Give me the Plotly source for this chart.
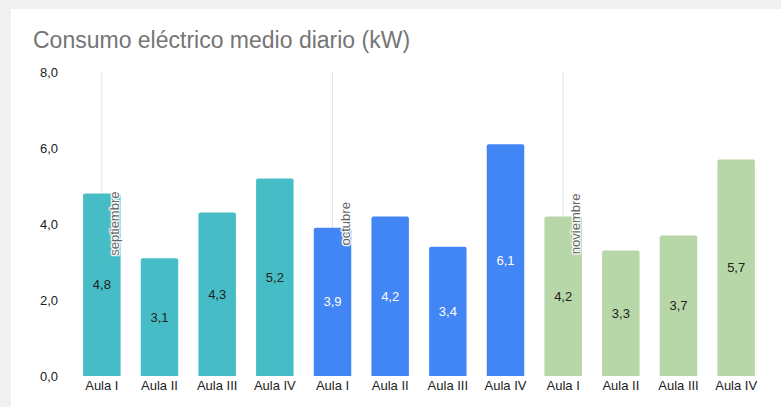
import plotly.graph_objects as go

# ---- data ----
months = ["septiembre", "octubre", "noviembre"]
aulas = ["Aula I", "Aula II", "Aula III", "Aula IV"]
sept_vals = [4.8, 3.1, 4.3, 5.2]
oct_vals = [3.9, 4.2, 3.4, 6.1]
nov_vals = [4.2, 3.3, 3.7, 5.7]
month_colors = ["#46bdc6", "#4285f4", "#b7d7a8"]
label_colors = ["#222222", "#ffffff", "#222222"]
y_ticks = [0, 2, 4, 6, 8]

series = [sept_vals, oct_vals, nov_vals]

x, y, colors, tcolors, ticktext = [], [], [], [], []
starts = []
i = 0
for m, vals in enumerate(series):
    starts.append(i)
    for a, v in zip(aulas, vals):
        x.append(i)
        y.append(v)
        colors.append(month_colors[m])
        tcolors.append(label_colors[m])
        ticktext.append(a)
        i += 1

W, H = 781, 407
L, R, T, B = 73, 16, 72, 31
pw, ph = W - L - R, H - T - B
FONT = "Liberation Sans, Arial"
HALO = ("1px 0 1px #fff, -1px 0 1px #fff, 0 1px 1px #fff, 0 -1px 1px #fff, "
        "1px 1px 1px #fff, -1px -1px 1px #fff, 1px -1px 1px #fff, -1px 1px 1px #fff")

fig = go.Figure(go.Bar(
    x=x, y=y,
    marker=dict(color=colors, line=dict(width=0), cornerradius=2),
    texttemplate="%{y:.1f}",
    textposition="inside",
    insidetextanchor="middle",
    textfont=dict(color=tcolors, size=13, family=FONT),
    hoverinfo="skip",
))

shapes = []
annotations = []
for s, mname in zip(starts, months):
    shapes.append(dict(type="line", xref="x", yref="y", x0=s, x1=s, y0=0, y1=8,
                       line=dict(color="#e3e3e3", width=1), layer="below"))
    annotations.append(dict(x=s, y=4, xref="x", yref="y", text=mname, textangle=-90,
                            showarrow=False, xshift=12, borderpad=0,
                            font=dict(size=13, color="#666666", family=FONT, shadow=HALO)))

# gray page background strips (card edge)
def px2x(p):
    return (p - L) / pw

def py2y(p):
    return (H - B - p) / ph

shapes.append(dict(type="rect", xref="paper", yref="paper", x0=px2x(0), x1=px2x(11),
                   y0=py2y(H), y1=py2y(0), fillcolor="#f1f1f1", line=dict(width=0), layer="below"))
shapes.append(dict(type="rect", xref="paper", yref="paper", x0=px2x(0), x1=px2x(W),
                   y0=py2y(9), y1=py2y(0), fillcolor="#f1f1f1", line=dict(width=0), layer="below"))

fig.update_layout(
    width=W, height=H,
    margin=dict(l=L, r=R, t=T, b=B, autoexpand=False),
    paper_bgcolor="white", plot_bgcolor="white",
    separators=",.",
    bargap=0.35,
    showlegend=False,
    font=dict(family=FONT, size=13, color="#222222"),
    title=dict(text="Consumo eléctrico medio diario (kW)", xref="container", yref="container",
               x=33 / W, xanchor="left", y=1 - 40 / H, yanchor="middle",
               font=dict(size=23, color="#757575", family=FONT)),
    xaxis=dict(range=[-0.5, len(x) - 0.5], tickmode="array", tickvals=x, ticktext=ticktext,
               showgrid=False, zeroline=False, showline=False, ticks="", automargin=False,
               tickfont=dict(size=13, color="#222222"), fixedrange=True),
    yaxis=dict(range=[0, 8], tickmode="array", tickvals=y_ticks, tickformat=".1f",
               showgrid=False, zeroline=False, showline=False, ticks="", automargin=False,
               ticklabelstandoff=14,
               tickfont=dict(size=13, color="#222222"), fixedrange=True),
    shapes=shapes,
    annotations=annotations,
)

fig.write_html("out.html", config={"displayModeBar": False},
               post_script="document.body.style.margin='0';document.body.style.padding='0';")
